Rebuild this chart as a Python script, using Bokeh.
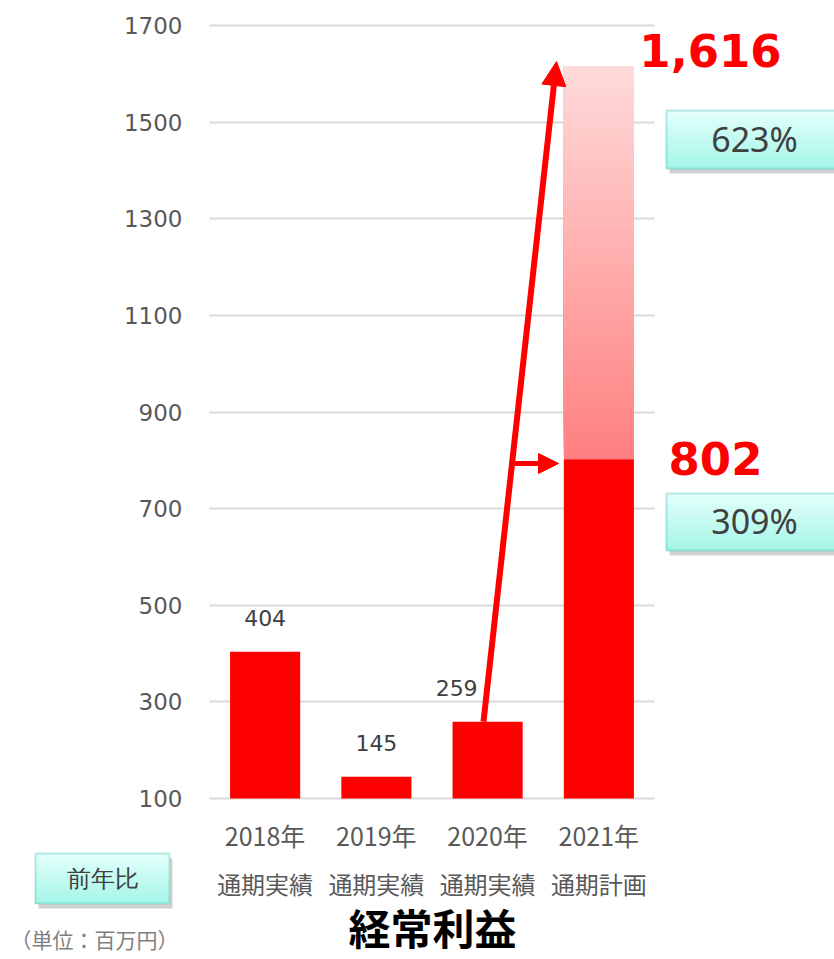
from bokeh.plotting import figure
from bokeh.models import (Range1d, FixedTicker, LinearAxis, Grid, Label,
                          Arrow, NormalHead, BoxAnnotation, ColumnDataSource)
from bokeh.core.properties import value
from bokeh.embed import file_html
from bokeh.resources import INLINE

# ---- data ----
years = ["2018年", "2019年", "2020年", "2021年"]
kinds = ["通期実績", "通期実績", "通期実績", "通期計画"]
actual = [404, 145, 259, 802]
plan_2021 = 1616
yoy_labels = ["309%", "623%"]
y_ticks = [100, 300, 500, 700, 900, 1100, 1300, 1500, 1700]
title_text = "経常利益"
unit_text = "（単位：百万円）"
yoy_title = "前年比"

W, H = 834, 959
# layout of the plotting area (page pixels)
FL, FR, FT, FB = 209, 654, 25, 798
Y0, Y1 = y_ticks[0], y_ticks[-1]
UPX = (Y1 - Y0) / (FB - FT)          # y units per pixel
CW = (FR - FL) / len(years)          # category width in pixels
xpos = [i + 1 for i in range(len(years))]   # category positions


def ydata(py):
    return Y0 + (FB - py) * UPX


def xdata(px):
    return 1 + (px - (FL + CW / 2)) / CW


p = figure(x_range=Range1d(xdata(0), xdata(W)), y_range=Range1d(ydata(H), ydata(0)),
           width=W, height=H, output_backend="svg", toolbar_location=None,
           x_axis_type=None, y_axis_type=None,
           min_border=0, min_border_left=0, min_border_right=0, min_border_top=0, min_border_bottom=0)
p.outline_line_color = None
p.background_fill_color = "white"
p.border_fill_color = "white"
p.grid.visible = False

# y axis inside the frame
yax = LinearAxis(fixed_location=xdata(FL), ticker=FixedTicker(ticks=y_ticks))
yax.axis_line_color = None
yax.major_tick_line_color = None
yax.minor_tick_line_color = None
yax.major_tick_out = 0
yax.major_tick_in = 0
yax.major_label_standoff = 27
yax.major_label_text_font = "DejaVu Sans"
yax.major_label_text_font_size = "23px"
yax.major_label_text_color = "#595959"
p.add_layout(yax, "left")

grid = Grid(dimension=1, ticker=FixedTicker(ticks=y_ticks), cross_bounds=(xdata(FL), xdata(FR)),
            grid_line_color="#D9D9D9", grid_line_width=2)
p.add_layout(grid)

# x axes (two label rows) inside the frame
for labels, standoff, fs in ((years, 18, "25px"), (kinds, 67, "24px")):
    ax = LinearAxis(fixed_location=Y0, ticker=FixedTicker(ticks=xpos),
                    major_label_overrides={x: l for x, l in zip(xpos, labels)})
    ax.axis_line_color = None
    ax.major_tick_line_color = None
    ax.minor_tick_line_color = None
    ax.major_tick_out = 0
    ax.major_tick_in = 0
    ax.major_label_standoff = standoff
    ax.major_label_text_font = "Noto Sans CJK JP"
    ax.major_label_text_font_size = fs
    ax.major_label_text_color = "#595959"
    p.add_layout(ax, "below")

BW = 0.63
# gradient part of 2021 plan bar (overlapping slices, bottom to top)
n = 80
for i in range(n):
    b = actual[3] + (plan_2021 - actual[3]) * i / n
    f = i / (n - 1)
    g = int(round(128 + (218 - 128) * f))
    col = "#%02x%02x%02x" % (255, g, g)
    p.vbar(x=[xpos[3]], top=[plan_2021], bottom=[b], width=BW, fill_color=col, line_color=None)

# actual bars
src = ColumnDataSource(dict(x=xpos, top=actual,
                            lbl=[str(v) if i < 3 else "" for i, v in enumerate(actual)],
                            xo=[0, 0, -31, 0]))
p.vbar(x="x", top="top", bottom=Y0, width=BW, fill_color="#FF0000", line_color=None, source=src)
p.text(x="x", y="top", text="lbl", x_offset="xo", y_offset=-34, source=src,
       text_font=value("DejaVu Sans"), text_font_size="22px", text_color="#404040",
       text_align="center", text_baseline="middle")

# arrows
p.add_layout(Arrow(end=NormalHead(size=24, fill_color="#FF0000", line_color="#FF0000", line_width=1),
                   x_start=xdata(483), y_start=actual[2], x_end=xdata(556), y_end=ydata(61),
                   line_color="#FF0000", line_width=6))
p.add_layout(Arrow(end=NormalHead(size=20, fill_color="#FF0000", line_color="#FF0000", line_width=1),
                   x_start=xdata(512), y_start=ydata(463), x_end=xdata(558), y_end=ydata(463),
                   line_color="#FF0000", line_width=5))

# value callouts
p.add_layout(Label(x=xdata(710), y=ydata(50), text="{:,}".format(plan_2021),
                   text_font="DejaVu Sans", text_font_style="bold", text_font_size="45px",
                   text_color="#FF0000", text_align="center", text_baseline="middle"))
p.add_layout(Label(x=xdata(715), y=ydata(458), text="{:,}".format(actual[3]),
                   text_font="DejaVu Sans", text_font_style="bold", text_font_size="45px",
                   text_color="#FF0000", text_align="center", text_baseline="middle"))


def grad_box(l, r, t, b, text, tx, fs):
    p.add_layout(BoxAnnotation(left=xdata(l + 3), right=xdata(r + 3), top=ydata(t + 5), bottom=ydata(b + 5),
                               fill_color="#7F7F7F", fill_alpha=0.35, line_color=None))
    m = 16
    c1, c2 = (226, 255, 251), (166, 246, 232)
    for i in range(m):
        f = i / (m - 1)
        col = "#%02x%02x%02x" % tuple(int(round(a + (bb - a) * f)) for a, bb in zip(c1, c2))
        tt = t + (b - t) * i / m
        p.add_layout(BoxAnnotation(left=xdata(l), right=xdata(r), top=ydata(tt), bottom=ydata(b),
                                   fill_color=col, fill_alpha=1, line_color=None))
    p.add_layout(BoxAnnotation(left=xdata(l), right=xdata(r), top=ydata(t), bottom=ydata(b),
                               fill_alpha=0, line_color="#2BB5A0", line_width=2))
    p.add_layout(Label(x=xdata(tx), y=ydata((t + b) / 2 - 1), text=text, text_font="Noto Sans",
                       text_font_size=fs, text_color="#404040", text_align="center", text_baseline="middle"))


grad_box(666, 840, 110, 168, yoy_labels[1], 754, "34px")
grad_box(666, 840, 493, 550, yoy_labels[0], 754, "34px")
grad_box(35, 169, 853, 903, yoy_title, 102, "24px")

p.add_layout(Label(x=xdata(94), y=ydata(938), text=unit_text, text_font="Noto Sans CJK JP",
                   text_font_size="21px", text_color="#7F7F7F", text_align="center", text_baseline="middle"))
p.add_layout(Label(x=xdata(432), y=ydata(926), text=title_text, text_font="Noto Sans CJK JP",
                   text_font_style="bold", text_font_size="42px", text_color="#000000",
                   text_align="center", text_baseline="middle"))

open("out.html", "w").write(file_html(p, INLINE))
